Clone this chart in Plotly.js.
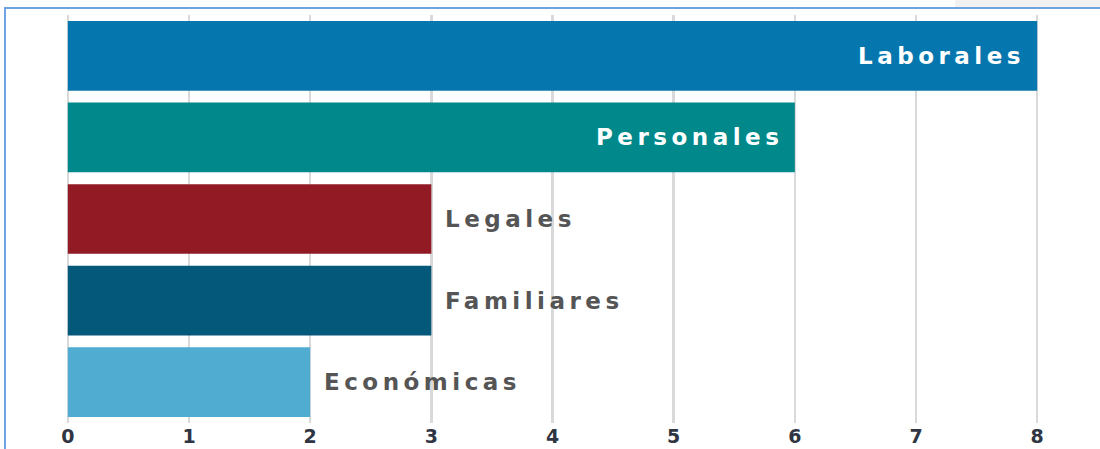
<!DOCTYPE html>
<html>
<head>
<meta charset="utf-8">
<script src="https://cdn.plot.ly/plotly-3.0.1.min.js"></script>
<style>
  html, body { margin: 0; padding: 0; background: #ffffff; width: 1100px; height: 449px; overflow: hidden; }
  #topshade { position: absolute; left: 955px; top: 0; width: 145px; height: 7px; background: #f1f1f1; }
  #frame { position: absolute; left: 4px; top: 7px; width: 1096px; height: 442px;
           border-left: 2px solid #6ea2e2; border-top: 2px solid #6ea2e2; box-sizing: border-box; }
  #chart { position: absolute; left: 0px; top: 0px; width: 1094px; height: 440px; }
  text.annotation-text { letter-spacing: 4.5px; }
</style>
</head>
<body>
<div id="topshade"></div>
<div id="frame"><div id="chart"></div></div>
<script>
// Data
const categories = ["Laborales", "Personales", "Legales", "Familiares", "Económicas"];
const values = [8, 6, 3, 3, 2];
const barColors = ["#0577ae", "#00888a", "#921a24", "#04587a", "#50acd0"];
const labelInside = [true, true, false, false, false];
const tickValues = [0, 1, 2, 3, 4, 5, 6, 7, 8];
const tickLabels = ["0", "1", "2", "3", "4", "5", "6", "7", "8"];

const trace = {
  type: "bar",
  orientation: "h",
  x: values,
  y: categories,
  marker: { color: barColors, line: { width: 0 } },
  hoverinfo: "x+y"
};

const annotations = categories.map((c, i) => ({
  x: values[i],
  y: c,
  xref: "x",
  yref: "y",
  text: c,
  showarrow: false,
  xanchor: labelInside[i] ? "right" : "left",
  yanchor: "middle",
  xshift: labelInside[i] ? -10 : 12,
  font: {
    family: "DejaVu Sans",
    size: 23,
    weight: 700,
    color: labelInside[i] ? "#ffffff" : "#555555"
  }
}));

const layout = {
  width: 1094,
  height: 440,
  margin: { l: 60, r: 61, t: 6, b: 26, pad: 0 },
  paper_bgcolor: "#ffffff",
  plot_bgcolor: "#ffffff",
  showlegend: false,
  bargap: 0.146,
  xaxis: {
    range: [-0.015, 8.015],
    tickmode: "array",
    tickvals: tickValues,
    ticktext: tickLabels,
    showgrid: true,
    gridcolor: "#d9d9d9",
    gridwidth: 2.5,
    zeroline: true,
    zerolinecolor: "#d9d9d9",
    zerolinewidth: 2.5,
    showline: false,
    ticks: "",
    tickfont: { family: "DejaVu Sans", size: 19, weight: 700, color: "#2f3542" },
    fixedrange: true
  },
  yaxis: {
    type: "category",
    autorange: "reversed",
    showticklabels: false,
    showgrid: false,
    zeroline: false,
    showline: false,
    ticks: "",
    fixedrange: true
  },
  annotations: annotations
};

Plotly.newPlot("chart", [trace], layout, { displayModeBar: false, staticPlot: true });
</script>
</body>
</html>
